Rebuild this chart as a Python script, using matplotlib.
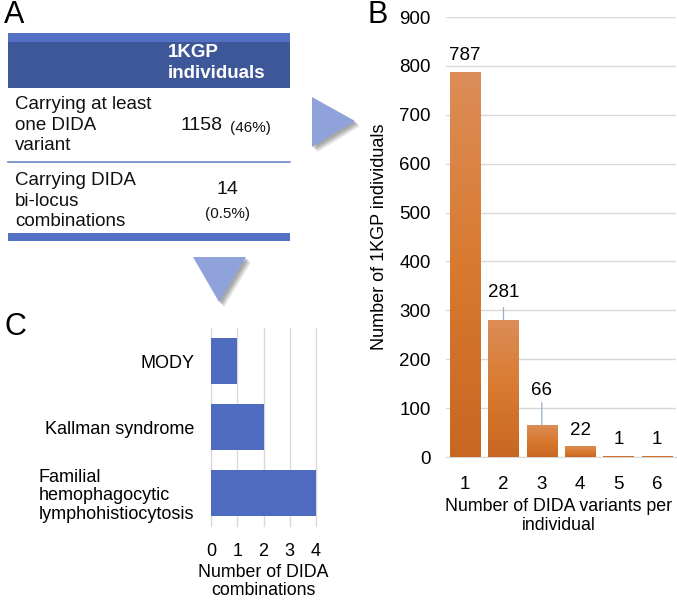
import matplotlib
matplotlib.use("Agg")
import matplotlib.pyplot as plt
import numpy as np
from matplotlib.colors import LinearSegmentedColormap
from matplotlib.patches import Polygon, Rectangle

plt.rcParams['font.family'] = ['Liberation Sans', 'DejaVu Sans']

# ---------------- data ----------------
variant_counts = ["1", "2", "3", "4", "5", "6"]
individuals = [787, 281, 66, 22, 1, 1]
b_yticks = [0, 100, 200, 300, 400, 500, 600, 700, 800, 900]

diseases = ["MODY", "Kallman syndrome",
            "Familial\nhemophagocytic\nlymphohistiocytosis"]
combinations = [1, 2, 4]
c_xticks = [0, 1, 2, 3, 4]

table_header = "1KGP\nindividuals"
row_labels = ["Carrying at least\none DIDA\nvariant",
              "Carrying DIDA\nbi-locus\ncombinations"]
row_counts = ["1158", "14"]
row_pcts = ["(46%)", "(0.5%)"]

W, H = 677, 602
fig = plt.figure(figsize=(W / 100, H / 100), dpi=100)


def ax_px(x0, y0, x1, y1, **kw):
    return fig.add_axes([x0 / W, 1 - y1 / H, (x1 - x0) / W, (y1 - y0) / H], **kw)


# overlay axes in pixel coords for decorations
ov = fig.add_axes([0, 0, 1, 1], zorder=-1)
ov.set_xlim(0, W)
ov.set_ylim(H, 0)
ov.axis('off')

# ---------------- Panel A : table ----------------
light_blue = '#5470C4'
dark_blue = '#3E5799'
ov.add_patch(Rectangle((8, 33), 282, 10, color=light_blue, lw=0))
ov.add_patch(Rectangle((8, 42), 282, 46, color=dark_blue, lw=0))
ov.text(168, 63, table_header, color='white', fontsize=13.5, fontweight='bold',
        ha='left', va='center', linespacing=1.25)
# rows
row_y = [125, 201]
for i in range(2):
    ov.text(15, row_y[i], row_labels[i], fontsize=13.5, ha='left', va='center',
            linespacing=1.25, color='#111111')
ov.text(202, 126, row_counts[0], fontsize=14, ha='center', va='center', color='#111111')
ov.text(250, 128, row_pcts[0], fontsize=11, ha='center', va='center', color='#111111')
ov.text(227, 190, row_counts[1], fontsize=14, ha='center', va='center', color='#111111')
ov.text(227, 214, row_pcts[1], fontsize=11, ha='center', va='center', color='#111111')
ov.plot([8, 290], [162, 162], color='#6F87C9', lw=1.2)
ov.add_patch(Rectangle((8, 233), 282, 8, color=light_blue, lw=0))

# arrows with shadow
arrow_c = '#8FA3DA'
shadow_c = '#8A8A8A'
for d, a in [(5, 0.25), (3.5, 0.35), (2, 0.45)]:
    ov.add_patch(Polygon([(312 + d, 97 + d), (312 + d, 147 + d), (355 + d, 121 + d)],
                         closed=True, color=shadow_c, alpha=a, lw=0))
ov.add_patch(Polygon([(312, 97), (312, 147), (355, 121)], closed=True,
                     color=arrow_c, lw=0))
for d, a in [(5, 0.25), (3.5, 0.35), (2, 0.45)]:
    ov.add_patch(Polygon([(193 + d, 257 + d), (246 + d, 257 + d), (219 + d, 302 + d)],
                         closed=True, color=shadow_c, alpha=a, lw=0))
ov.add_patch(Polygon([(193, 257), (246, 257), (219, 302)], closed=True,
                     color=arrow_c, lw=0))

# panel letters
ov.text(4, 15, "A", fontsize=22, ha='left', va='center')
ov.text(368, 15, "B", fontsize=22, ha='left', va='center')
ov.text(4, 327, "C", fontsize=22, ha='left', va='center')

# ---------------- Panel B ----------------
axB = ax_px(446, 17, 676, 457)
x = np.arange(len(variant_counts))
bars = axB.bar(x, individuals, width=0.79, color='none', zorder=3)
cmap = LinearSegmentedColormap.from_list('org', ['#C86722', '#D87A30', '#DC8D58'])
grad = np.linspace(0, 1, 256).reshape(-1, 1)
for b in bars:
    bx, by = b.get_x(), b.get_y()
    bw, bh = b.get_width(), b.get_height()
    hh = max(bh, 2.5)
    im = axB.imshow(grad, extent=[bx, bx + bw, by, by + hh], origin='lower',
                    cmap=cmap, aspect='auto', zorder=3)
    im.set_clip_path(Rectangle((bx, by), bw, hh, transform=axB.transData))
axB.set_xlim(-0.5, len(variant_counts) - 0.5)
axB.set_ylim(0, 900)
axB.set_yticks(b_yticks)
axB.set_xticks(x)
axB.set_xticklabels(variant_counts)
axB.tick_params(length=0, labelsize=13.5)
axB.tick_params(axis='x', pad=14)
axB.tick_params(axis='y', pad=11)
axB.yaxis.grid(True, color='#D9D9D9', lw=1)
axB.set_axisbelow(True)
for s in ['top', 'right', 'left']:
    axB.spines[s].set_visible(False)
axB.spines['bottom'].set_color('#D9D9D9')
axB.set_xlabel("Number of DIDA variants per\nindividual", fontsize=12.8, labelpad=3,
               linespacing=1.15)
axB.xaxis.label.set_x(0.49)
axB.set_ylabel("Number of 1KGP individuals", fontsize=13, labelpad=8)

# value labels: offsets (points) of label centre above bar top; leader line lengths
label_offsets = [12, 19.5, 25, 11.5, 12.5, 12.5]
leader_len = [0, 8.6, 16, 0, 0, 0]
for xi, v, off, ll in zip(x, individuals, label_offsets, leader_len):
    axB.annotate(str(v), xy=(xi, v), xytext=(0, off), textcoords='offset points',
                 ha='center', va='center', fontsize=13.5, zorder=5)
    if ll > 0:
        axB.annotate("", xy=(xi, v), xytext=(0, ll), textcoords='offset points',
                     arrowprops=dict(arrowstyle='-', color='#9AAFC8', lw=0.9,
                                     shrinkA=0, shrinkB=0), zorder=4)

# ---------------- Panel C ----------------
axC = ax_px(211, 328, 316, 526)
yc = np.arange(len(diseases))
axC.barh(yc, combinations, height=0.7, color='#4F6BC0', zorder=3)
axC.set_ylim(len(diseases) - 0.5, -0.5)
axC.set_xlim(0, 4)
axC.set_xticks(c_xticks)
axC.set_yticks(yc)
axC.set_yticklabels(diseases, fontsize=13, linespacing=1.15)
for lab in axC.get_yticklabels():
    lab.set_multialignment('left')
axC.tick_params(length=0, labelsize=13)
axC.tick_params(axis='x', pad=12)
axC.tick_params(axis='y', pad=12)
axC.xaxis.grid(True, color='#D9D9D9', lw=1, clip_on=False)
axC.set_axisbelow(True)
for s in axC.spines.values():
    s.set_visible(False)
axC.set_xlabel("Number of DIDA\ncombinations", fontsize=12.8, labelpad=3, linespacing=1.1)

fig.savefig("out.png", dpi=100)
